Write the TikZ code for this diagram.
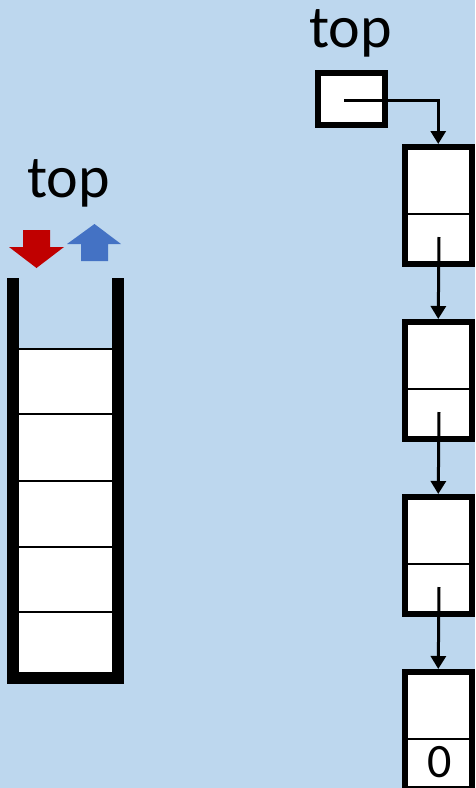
\documentclass[tikz,border=0pt]{standalone}
\usepackage{fontspec}
\setmainfont{Carlito}
\usetikzlibrary{arrows.meta}
\definecolor{bg}{RGB}{189,215,238}
\definecolor{popred}{RGB}{192,0,0}
\definecolor{pushblue}{RGB}{68,114,196}
\tikzset{
  listbox/.style={draw=black, fill=white, line width=6pt, minimum width=66.5pt, minimum height=117pt, inner sep=0pt},
  ptrbox/.style={draw=black, fill=white, line width=6.5pt, minimum width=67pt, minimum height=52pt, inner sep=0pt},
  link/.style={line width=3pt, -{Triangle[length=13pt,width=15pt]}},
  divider/.style={line width=2.5pt},
  celldiv/.style={line width=2pt},
  label/.style={font=\fontsize{60}{66}\selectfont, inner sep=0pt, anchor=base},
}
\begin{document}
\begin{tikzpicture}[x=1pt,y=-1pt]
\useasboundingbox (0,0) rectangle (475,788);
\clip (0,0) rectangle (475,788);
\fill[bg] (0,0) rectangle (475,788);
% left stack
\fill[white] (19,349) rectangle (112,672);
\foreach \yy in {349,414,481,547,612}{\draw[celldiv] (19,\yy) -- (112,\yy);}
\draw[line width=12pt, line join=miter] (13,278) -- (13,678) -- (118,678) -- (118,278);
\node[label] (ltop) at (68.5,197) {top};
\fill[popred] (23,230) -- (50,230) -- (50,247) -- (64,247) -- (36.5,268) -- (9,247) -- (23,247) -- cycle;
\fill[pushblue] (81,261) -- (108,261) -- (108,244) -- (121,244) -- (94.5,224) -- (67,244) -- (81,244) -- cycle;
% linked list
\node[label] (rtop) at (350.5,47) {top};
\node[ptrbox] (p) at (351.5,99) {};
\node[listbox] (n1) at (438.25,205.5) {};
\node[listbox] (n2) at (438.25,380.5) {};
\node[listbox] (n3) at (438.25,555.5) {};
\node[listbox] (n4) at (438.25,730.5) {};
\foreach \n in {n1,n2,n3,n4}{
  \draw[divider] ([yshift=-8.5pt]\n.west) -- ([yshift=-8.5pt]\n.east);
}
\node[font=\fontsize{48}{52}\selectfont, inner sep=0pt, anchor=base] (zero) at (440,777) {0};
\coordinate (ps) at (344,100);
\draw[link] (ps) -| (n1.north);
\draw[link] ([shift={(0.75pt,-31.5pt)}]n1.center) -- (n2.north);
\draw[link] ([shift={(0.75pt,-31.5pt)}]n2.center) -- (n3.north);
\draw[link] ([shift={(0.75pt,-31.5pt)}]n3.center) -- (n4.north);
\end{tikzpicture}
\end{document}
